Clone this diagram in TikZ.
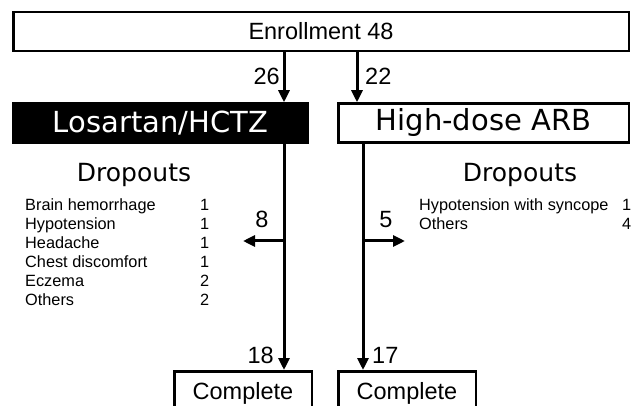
\documentclass[tikz,border=0pt]{standalone}
\usepackage{fontspec}
\setmainfont{Liberation Sans}
\newfontfamily\headfont{DejaVu Sans}
\usetikzlibrary{arrows.meta, positioning}

\newcommand{\boxfont}{\fontsize{23.5}{26}\selectfont}
\newcommand{\headbig}{\headfont\fontsize{29}{32}\selectfont}
\newcommand{\headmid}{\headfont\fontsize{25}{28}\selectfont}
\newcommand{\listfont}{\fontsize{16.3}{19}\selectfont}

\begin{document}
\begin{tikzpicture}[
    x=1pt, y=-1pt,
    box/.style={draw, line width=2.5pt, inner sep=0pt, minimum height=39pt, font=\boxfont, align=center},
    headbox/.style={box, minimum height=39pt, font=\headbig},
    endbox/.style={box, minimum width=137.5pt, inner ysep=11pt, minimum height=10pt},
    arr/.style={-{Triangle[length=12pt, width=11pt]}, line width=3pt},
    num/.style={inner sep=0pt, font=\boxfont},
    droplist/.style={inner sep=0pt, font=\listfont},
]
    \path[use as bounding box, clip] (0,0) rectangle (632,406);

    \node[box, minimum width=615.5pt] (enroll) at (321,31.5) {Enrollment 48};
    \node[headbox, fill=black, text=white, minimum width=294.5pt] (los) at (160.5,123) {Losartan/HCTZ};
    \node[headbox, minimum width=290.5pt] (arb) at (483.5,123) {High-dose ARB};
    \node[endbox, anchor=north] (compL) at (243,370) {Complete};
    \node[endbox, anchor=north] (compR) at (407,370) {Complete};

    % columns of the arrows
    \coordinate (xl) at (284,0);
    \coordinate (xa) at (357,0);
    \coordinate (xr) at (363,0);
    \coordinate (dropL) at (243,241);
    \coordinate (dropR) at (405,241);

    \draw[arr] (enroll.south -| xl) -- (los.north -| xl);
    \draw[arr] (enroll.south -| xa) -- (arb.north -| xa);
    \draw[arr] (los.south -| xl) -- (compL.north -| xl);
    \draw[arr] (arb.south -| xr) -- (compR.north -| xr);
    \draw[arr] (dropL -| xl) -- (dropL);
    \draw[arr] (dropR -| xr) -- (dropR);

    \node[num, anchor=base east] (n26) at (280,85) {26};
    \node[num, anchor=base west] (n22) at (365,85) {22};
    \node[num, anchor=base] (n8) at (262,228) {8};
    \node[num, anchor=base] (n5) at (386,228) {5};
    \node[num, anchor=base east] (n18) at (274,363) {18};
    \node[num, anchor=base west] (n17) at (372,363) {17};

    % dropouts
    \node[inner sep=0pt, font=\headmid, anchor=base] (dropTL) at (134,182) {Dropouts};
    \node[inner sep=0pt, font=\headmid, anchor=base] (dropTR) at (520,182) {Dropouts};
    \node[droplist, anchor=north west] (listL) at (25,196.7) {%
        \begin{tabular}{@{}p{175pt}@{}l@{}}
        Brain hemorrhage & 1\\
        Hypotension & 1\\
        Headache & 1\\
        Chest discomfort & 1\\
        Eczema & 2\\
        Others & 2
        \end{tabular}};
    \node[droplist, anchor=north west] (listR) at (419,196.7) {%
        \begin{tabular}{@{}p{203pt}@{}l@{}}
        Hypotension with syncope & 1\\
        Others & 4
        \end{tabular}};
\end{tikzpicture}
\end{document}
